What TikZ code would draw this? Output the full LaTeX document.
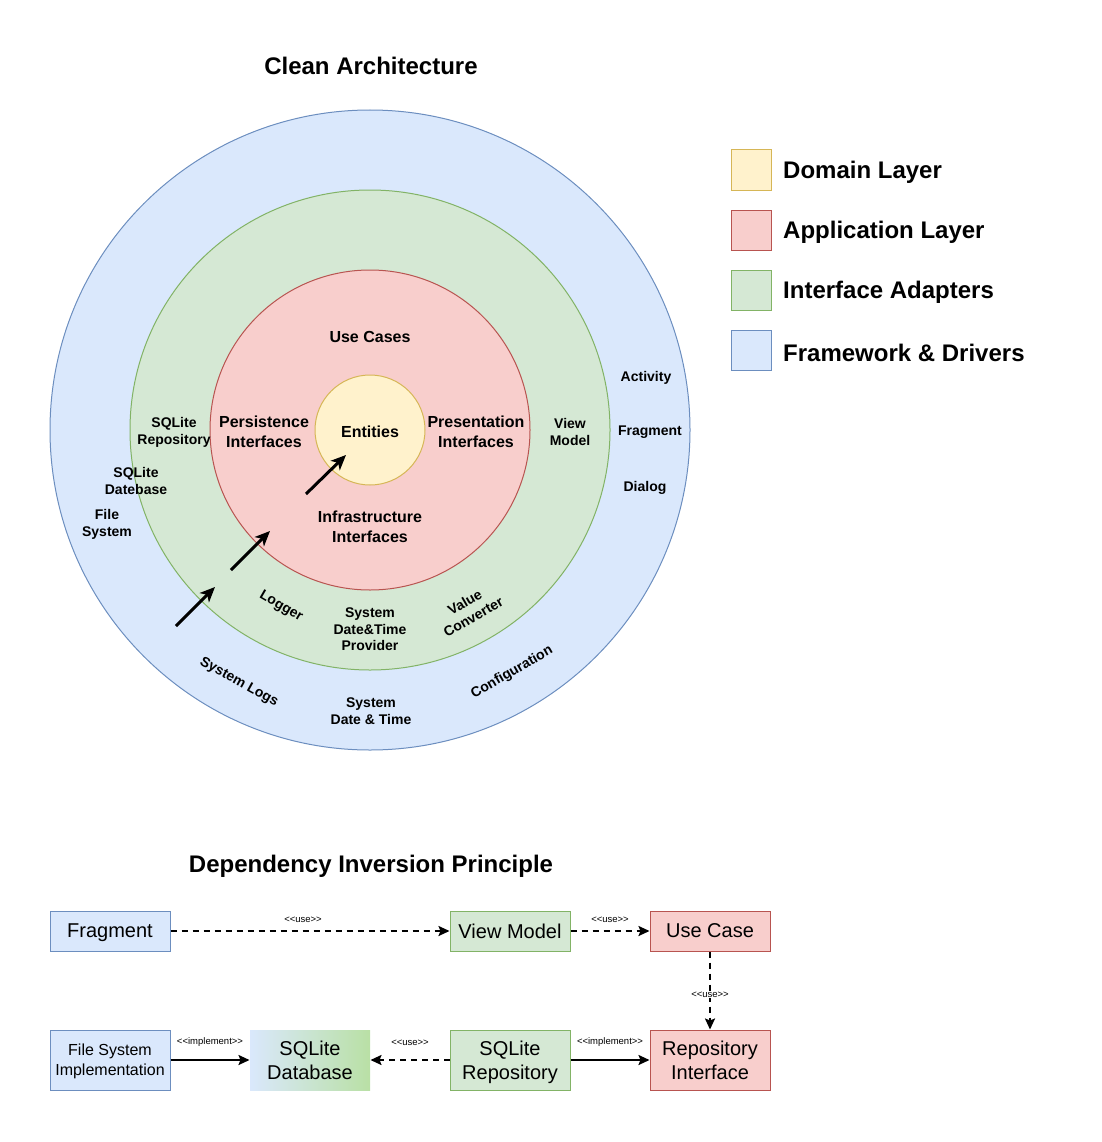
\documentclass[tikz,border=0pt]{standalone}
\usepackage{fontspec}
\setmainfont{Liberation Sans}
\usetikzlibrary{arrows.meta}
\definecolor{yfill}{HTML}{FFF2CC}\definecolor{ydraw}{HTML}{D6B656}
\definecolor{rfill}{HTML}{F8CECC}\definecolor{rdraw}{HTML}{B85450}
\definecolor{gfill}{HTML}{D5E8D4}\definecolor{gdraw}{HTML}{82B366}
\definecolor{bfill}{HTML}{DAE8FC}\definecolor{bdraw}{HTML}{6C8EBF}
\definecolor{gdark}{HTML}{B9E0A5}
\newcommand{\lt}{{<}}
\newcommand{\gtr}{{>}}
\tikzset{
  ring/.style={line width=1pt},
  lbl/.style={font=\fontsize{14}{17}\selectfont\bfseries, align=center, inner sep=0pt, yshift=-1.5pt},
  midlbl/.style={font=\fontsize{16}{20}\selectfont\bfseries, align=center, inner sep=0pt, yshift=-1.5pt},
  ttl/.style={font=\fontsize{24}{28}\selectfont\bfseries, inner sep=0pt},
  legbox/.style={draw, line width=1pt, minimum width=40pt, minimum height=40pt, inner sep=0pt},
  legtxt/.style={font=\fontsize{24}{28}\selectfont\bfseries, anchor=west, inner sep=0pt, yshift=-1.5pt},
  flowbox/.style={draw, line width=1pt, minimum width=120pt, inner sep=0pt, align=center, text depth=0pt},
  bigtxt/.style={font=\fontsize{20}{24}\selectfont},
  bigarrow/.style={line width=3pt, -{Stealth[length=15pt,width=13pt,inset=4pt]}},
  usearrow/.style={line width=2pt, dash pattern=on 6pt off 5pt, -{Stealth[length=11pt,width=10pt,inset=2pt]}},
  implarrow/.style={line width=2pt, -{Stealth[length=11pt,width=10pt,inset=2pt]}},
  elbl/.style={font=\fontsize{9.5}{11}\selectfont, inner sep=1pt}
}
\begin{document}
\begin{tikzpicture}[x=1pt,y=-1pt]
\useasboundingbox (0,0) rectangle (1101,1142);
% titles
\node[ttl] (t1) at (371,66) {Clean Architecture};
\node[ttl] (t2) at (371,866) {Dependency Inversion Principle};
% circles
\filldraw[ring, fill=bfill, draw=bdraw] (370,430) circle[radius=320];
\filldraw[ring, fill=gfill, draw=gdraw] (370,430) circle[radius=240];
\filldraw[ring, fill=rfill, draw=rdraw] (370,430) circle[radius=160];
\filldraw[ring, fill=yfill, draw=ydraw] (370,430) circle[radius=55];
% inner labels
\node[midlbl] (entities) at (370,430) {Entities};
\node[midlbl] (usecases) at (370,335) {Use Cases};
\node[midlbl] (persist) at (264,430) {Persistence\\Interfaces};
\node[midlbl] (present) at (476,430) {Presentation\\Interfaces};
\node[midlbl] (infra) at (370,525) {Infrastructure\\Interfaces};
% green ring labels
\node[lbl] (sqlrepo) at (174,431) {SQLite\\Repository};
\node[lbl] (viewmodel) at (570,430) {View\\Model};
\node[lbl, rotate=-30] (logger) at (281,605) {Logger};
\node[lbl, font=\fontsize{14}{16.5}\selectfont\bfseries] (sysprov) at (370,628) {System\\Date\&Time\\Provider};
\node[lbl, rotate=30] (valconv) at (469,608) {Value\\Converter};
% blue ring labels
\node[lbl] (sqldb) at (136,479) {SQLite\\Datebase};
\node[lbl] (filesys) at (107,523) {File\\System};
\node[lbl] (activity) at (646,376) {Activity};
\node[lbl] (fragment) at (650,431) {Fragment};
\node[lbl] (dialog) at (645,486) {Dialog};
\node[lbl, rotate=-29] (syslogs) at (239,681) {System Logs};
\node[lbl] (sysdt) at (371,710) {System\\Date \& Time};
\node[lbl, rotate=30] (config) at (512,671) {Configuration};
% arrows in circle
\coordinate (a1s) at (176,626); \coordinate (a1e) at (215,587);
\coordinate (a2s) at (231,570); \coordinate (a2e) at (270,531);
\coordinate (a3s) at (306,494); \coordinate (a3e) at (346,455);
\draw[bigarrow] (a1s) -- (a1e);
\draw[bigarrow] (a2s) -- (a2e);
\draw[bigarrow] (a3s) -- (a3e);
% legend
\node[legbox, fill=yfill, draw=ydraw] (l1) at (751,170) {};
\node[legbox, fill=rfill, draw=rdraw] (l2) at (751,230) {};
\node[legbox, fill=gfill, draw=gdraw] (l3) at (751,290) {};
\node[legbox, fill=bfill, draw=bdraw] (l4) at (751,350) {};
\node[legtxt] (lt1) at (783,171) {Domain Layer};
\node[legtxt] (lt2) at (783,231) {Application Layer};
\node[legtxt] (lt3) at (783,291) {Interface Adapters};
\node[legtxt] (lt4) at (783,351) {Framework \& Drivers};
% DIP diagram
\node[flowbox, bigtxt, minimum height=40pt, fill=bfill, draw=bdraw] (frag) at (110,931) {Fragment};
\node[flowbox, bigtxt, minimum height=40pt, fill=gfill, draw=gdraw] (vm) at (510,931) {View Model};
\node[flowbox, bigtxt, minimum height=40pt, fill=rfill, draw=rdraw] (uc) at (710,931) {Use Case};
\node[flowbox, minimum height=60pt, fill=bfill, draw=bdraw, font=\fontsize{16}{20}\selectfont] (fsi) at (110,1060) {File System\\Implementation};
\node[flowbox, bigtxt, minimum height=60pt, left color=bfill, right color=gdark, draw=none] (db) at (310,1060) {SQLite\\Database};
\node[flowbox, bigtxt, minimum height=60pt, fill=gfill, draw=gdraw] (repo) at (510,1060) {SQLite\\Repository};
\node[flowbox, bigtxt, minimum height=60pt, fill=rfill, draw=rdraw] (ri) at (710,1060) {Repository\\Interface};
\draw[usearrow] (frag) -- node[elbl, pos=0.475, above=6pt] {\lt\lt use\gtr\gtr} (vm);
\draw[usearrow] (vm) -- node[elbl, above=6pt] {\lt\lt use\gtr\gtr} (uc);
\draw[usearrow] (uc) -- node[elbl, fill=white, pos=0.55] {\lt\lt use\gtr\gtr} (ri);
\draw[implarrow] (fsi) -- node[elbl, above=12pt] {\lt\lt implement\gtr\gtr} (db);
\draw[usearrow] (repo) -- node[elbl, above=12pt] {\lt\lt use\gtr\gtr} (db);
\draw[implarrow] (repo) -- node[elbl, above=12pt] {\lt\lt implement\gtr\gtr} (ri);
\end{tikzpicture}
\end{document}
